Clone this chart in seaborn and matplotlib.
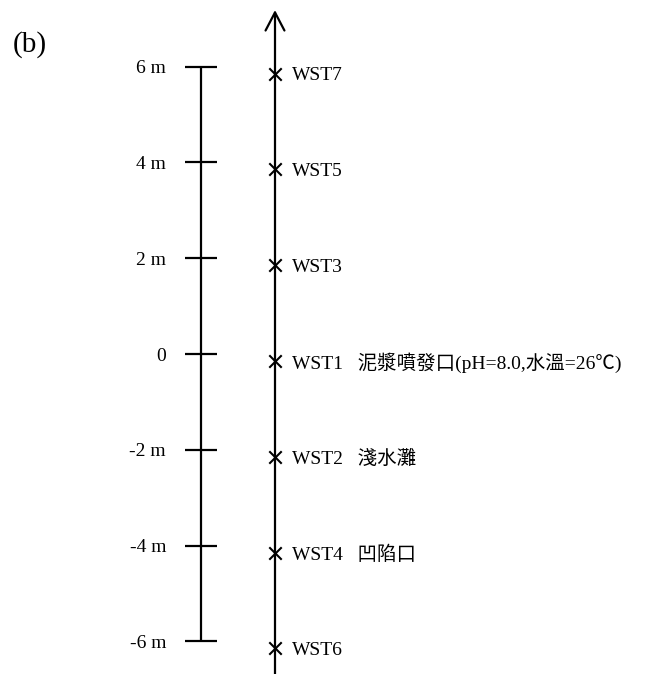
import matplotlib
matplotlib.use("Agg")
import matplotlib.pyplot as plt
import matplotlib.transforms as mtransforms
import seaborn as sns
import pandas as pd

# scale bar (metres)
tick_values = [6, 4, 2, 0, -2, -4, -6]
tick_labels = ["6 m", "4 m", "2 m", "0", "-2 m", "-4 m", "-6 m"]

# sampling stations along the transect
stations = ["WST7", "WST5", "WST3", "WST1", "WST2", "WST4", "WST6"]
station_pos = [6, 4, 2, 0, -2, -4, -6]
station_notes = ["", "", "", "泥漿噴發口(pH=8.0,水溫=26℃)", "淺水灘", "凹陷口", ""]

sns.set_theme(style="white")
plt.rcParams["font.family"] = ["Liberation Serif", "Noto Sans CJK TC", "DejaVu Sans"]
plt.rcParams["text.color"] = "black"

fig = plt.figure(figsize=(6.49, 6.74), dpi=100)
ax = fig.add_axes([0, 0, 1, 1])
ax.set_xlim(0, 649)
ax.set_ylim(-6.68, 7.39)
ax.axis("off")

bar_x = 201
tick_half = 16
line_x = 275
fs = 14

# scale bar
ax.vlines(bar_x, min(tick_values), max(tick_values), color="black", lw=1.6)
ax.hlines(tick_values, bar_x - tick_half, bar_x + tick_half, color="black", lw=1.6)
for v, lab in zip(tick_values, tick_labels):
    ax.text(bar_x - 35, v, lab, ha="right", va="center_baseline", fontsize=fs,
            color="black")

# transect arrow
ax.annotate("", xy=(line_x, 7.18), xytext=(line_x, -6.7),
            arrowprops=dict(arrowstyle="->,head_length=0.65,head_width=0.34",
                            lw=1.6, color="black", mutation_scale=20,
                            shrinkA=0, shrinkB=0))

# station markers, drawn slightly below the scale ticks
shift = mtransforms.ScaledTranslation(0, -0.07, fig.dpi_scale_trans)
df = pd.DataFrame({"x": [line_x] * len(stations), "y": station_pos})
sns.scatterplot(data=df, x="x", y="y", marker="x", s=80, color="black",
                linewidth=1.5, ax=ax, legend=False, transform=ax.transData + shift)

for name, pos, note in zip(stations, station_pos, station_notes):
    label = name + ("   " + note if note else "")
    ax.text(line_x + 17, pos, label, ha="left", va="center_baseline",
            fontsize=fs, color="black", transform=ax.transData + shift)

ax.text(13, 6.45, "(b)", ha="left", va="center", fontsize=21, color="black")
ax.set_xlabel("")
ax.set_ylabel("")

fig.savefig("out.png", dpi=100)
